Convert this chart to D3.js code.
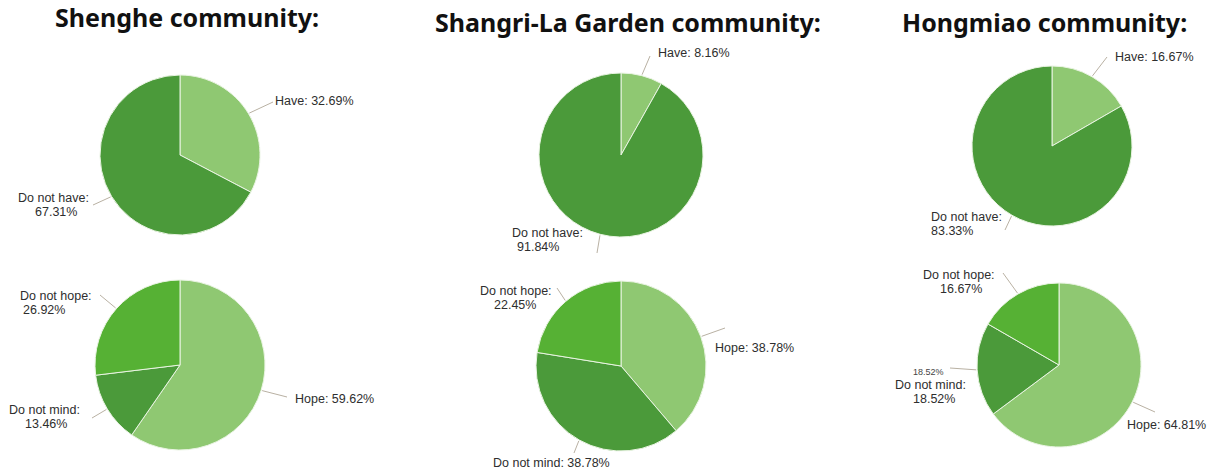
<!DOCTYPE html>
<html>
<head>
<meta charset="utf-8">
<script src="https://cdn.jsdelivr.net/npm/d3@7"></script>
<style>
  html, body { margin: 0; padding: 0; background: #ffffff; }
  svg { display: block; }
</style>
</head>
<body>
<svg id="chart" width="1216" height="474"></svg>
<script>
// ---------- data ----------
const communities = ["Shenghe community:", "Shangri-La Garden community:", "Hongmiao community:"];

const haveCategories = ["Have", "Do not have"];
const haveShenghe   = [32.69, 67.31];
const haveShangrila = [8.16, 91.84];
const haveHongmiao  = [16.67, 83.33];

const hopeCategories = ["Hope", "Do not mind", "Do not hope"];
const hopeShenghe   = [59.62, 13.46, 26.92];
const hopeShangrila = [38.78, 38.78, 22.45];
const hopeHongmiao  = [64.81, 18.52, 16.67];

// ---------- styling ----------
const colorHave = d3.scaleOrdinal().domain(haveCategories).range(["#8fc872", "#4b9a3a"]);
const colorHope = d3.scaleOrdinal().domain(hopeCategories).range(["#8fc872", "#4b9a3a", "#56b134"]);

const fmt = v => v.toFixed(2) + "%";

// ---------- layout (positions only) ----------
const titles = [
  {x: 55,  y: 27},
  {x: 435, y: 32},
  {x: 902, y: 32}
];

const pies = [
  {values: haveShenghe, cats: haveCategories, color: colorHave, cx: 180, cy: 155, r: 80,
   labels: [
     {ex: 273, ey: 102, lines: [[275, 105]]},
     {ex: 93,  ey: 205, lines: [[18, 202], [35, 216]]}
   ]},
  {values: hopeShenghe, cats: hopeCategories, color: colorHope, cx: 180, cy: 365, r: 85,
   labels: [
     {ex: 287, ey: 397, lines: [[295, 403]]},
     {ex: 92,  ey: 418, lines: [[9, 414], [25, 428]]},
     {ex: 100, ey: 295, lines: [[20, 300], [23, 314]]}
   ]},
  {values: haveShangrila, cats: haveCategories, color: colorHave, cx: 621, cy: 155, r: 82,
   labels: [
     {ex: 650, ey: 56,  lines: [[658, 57]]},
     {ex: 597, ey: 253, lines: [[512, 237], [517, 251]]}
   ]},
  {values: hopeShangrila, cats: hopeCategories, color: colorHope, cx: 621, cy: 366, r: 85,
   labels: [
     {ex: 725, ey: 328, lines: [[715, 352]]},
     {ex: 574, ey: 453, lines: [[493, 467]]},
     {ex: 557, ey: 288, lines: [[480, 295], [494, 309]]}
   ]},
  {values: haveHongmiao, cats: haveCategories, color: colorHave, cx: 1052, cy: 146, r: 80,
   labels: [
     {ex: 1107, ey: 57,  lines: [[1115, 61]]},
     {ex: 1005, ey: 230, lines: [[931, 221], [931, 235]]}
   ]},
  {values: hopeHongmiao, cats: hopeCategories, color: colorHope, cx: 1059, cy: 365, r: 82,
   labels: [
     {ex: 1155, ey: 412, lines: [[1127, 429]]},
     {ex: 950,  ey: 368, lines: [[895, 389], [913, 403]], small: [913, 375]},
     {ex: 1003, ey: 273, lines: [[923, 279], [940, 293]]}
   ]}
];

// ---------- drawing ----------
const svg = d3.select("#chart");

svg.selectAll("text.title")
  .data(communities)
  .join("text")
  .attr("class", "title")
  .attr("x", (d, i) => titles[i].x)
  .attr("y", (d, i) => titles[i].y)
  .attr("font-family", "'Noto Sans', 'Open Sans', sans-serif")
  .attr("font-weight", 700)
  .attr("font-size", 25)
  .attr("fill", "#111")
  .text(d => d);

const pieGen = d3.pie().sort(null).value(d => d.v).startAngle(0).endAngle(2 * Math.PI);

pies.forEach(p => {
  const data = p.cats.map((c, i) => ({c, v: p.values[i]}));
  const arcs = pieGen(data);
  const arc = d3.arc().innerRadius(0).outerRadius(p.r);
  const g = svg.append("g").attr("transform", `translate(${p.cx},${p.cy})`);

  g.selectAll("path")
    .data(arcs)
    .join("path")
    .attr("d", arc)
    .attr("fill", d => p.color(d.data.c))
    .attr("stroke", "#e9f4e2")
    .attr("stroke-width", 1);

  arcs.forEach((a, i) => {
    const lab = p.labels[i];
    const mid = (a.startAngle + a.endAngle) / 2;
    const sx = p.cx + (p.r + 1) * Math.sin(mid);
    const sy = p.cy - (p.r + 1) * Math.cos(mid);
    svg.append("line")
      .attr("x1", sx).attr("y1", sy)
      .attr("x2", lab.ex).attr("y2", lab.ey)
      .attr("stroke", "#b9b1a3")
      .attr("stroke-width", 1);

    const texts = lab.lines.length === 1
      ? [a.data.c + ": " + fmt(a.data.v)]
      : [a.data.c + ":", fmt(a.data.v)];
    texts.forEach((t, k) => {
      svg.append("text")
        .attr("x", lab.lines[k][0])
        .attr("y", lab.lines[k][1])
        .attr("font-family", "'Liberation Sans', Arial, sans-serif")
        .attr("font-size", 12.5)
        .attr("fill", "#2e2e2e")
        .text(t);
    });
    if (lab.small) {
      svg.append("text")
        .attr("x", lab.small[0])
        .attr("y", lab.small[1])
        .attr("font-family", "'Liberation Sans', Arial, sans-serif")
        .attr("font-size", 9)
        .attr("fill", "#444")
        .text(fmt(a.data.v));
    }
  });
});
</script>
</body>
</html>
